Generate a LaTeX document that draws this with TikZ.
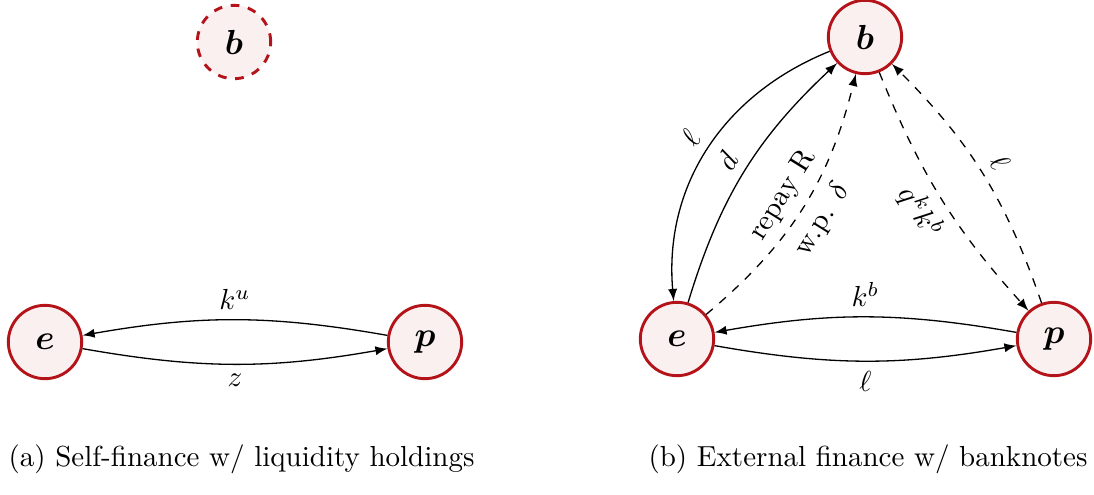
\documentclass[tikz,border=0pt]{standalone}
\usepackage{amsmath,bm}
\usetikzlibrary{arrows}
\definecolor{nodered}{RGB}{180,20,25}
\definecolor{nodefill}{RGB}{250,240,240}
\tikzset{
 agent/.style={circle, draw=nodered, fill=nodefill, line width=1pt, minimum size=25.3pt, inner sep=0pt, font=\large},
 ghost/.style={agent, dashed},
 flow/.style={-latex, line width=0.45pt},
 dflow/.style={flow, dashed},
 lbl/.style={font=\normalsize},
 captext/.style={anchor=base west, inner sep=0pt}
}
\begin{document}
\begin{tikzpicture}[x=0.3448pt, y=0.3448pt]
\useasboundingbox (0,0) rectangle (1094,-494);
% panel (a)
\node[agent] (eA) at (45,-342) {$\bm{e}$};
\node[agent] (pA) at (425,-342) {$\bm{p}$};
\node[ghost] (bA) at (234,-42) {$\bm{b}$};
\draw[flow] (eA) to[bend right=10] node[lbl, below] {$z$} (pA);
\draw[flow] (pA) to[bend right=10] node[lbl, above] {$k^u$} (eA);
\node[captext] (capA) at (8,-466) {(a) Self-finance w/ liquidity holdings};
% panel (b)
\node[agent] (eB) at (677,-339) {$\bm{e}$};
\node[agent] (pB) at (1054,-339) {$\bm{p}$};
\node[agent] (bB) at (865,-37) {$\bm{b}$};
\draw[flow] (eB) to[bend right=10] node[lbl, below] {$\ell$} (pB);
\draw[flow] (pB) to[bend right=10] node[lbl, above] {$k^b$} (eB);
\draw[flow] (bB) to[out=202, in=95] node[lbl, sloped, above] {$\ell$} (eB);
\draw[flow] (eB) to[bend left=15] node[lbl, sloped, above] {$d$} (bB);
\draw[dflow] (eB) to[bend right=18] node[lbl, sloped, above] {repay R} node[lbl, sloped, below] {w.p. $\delta$} (bB);
\draw[dflow] (bB) to[bend right=10] node[lbl, sloped, below] {$q^k k^b$} (pB);
\draw[dflow] (pB) to[bend right=13] node[lbl, sloped, above] {$\ell$} (bB);
\node[captext] (capB) at (648,-466) {(b) External finance w/ banknotes};
\end{tikzpicture}
\end{document}
